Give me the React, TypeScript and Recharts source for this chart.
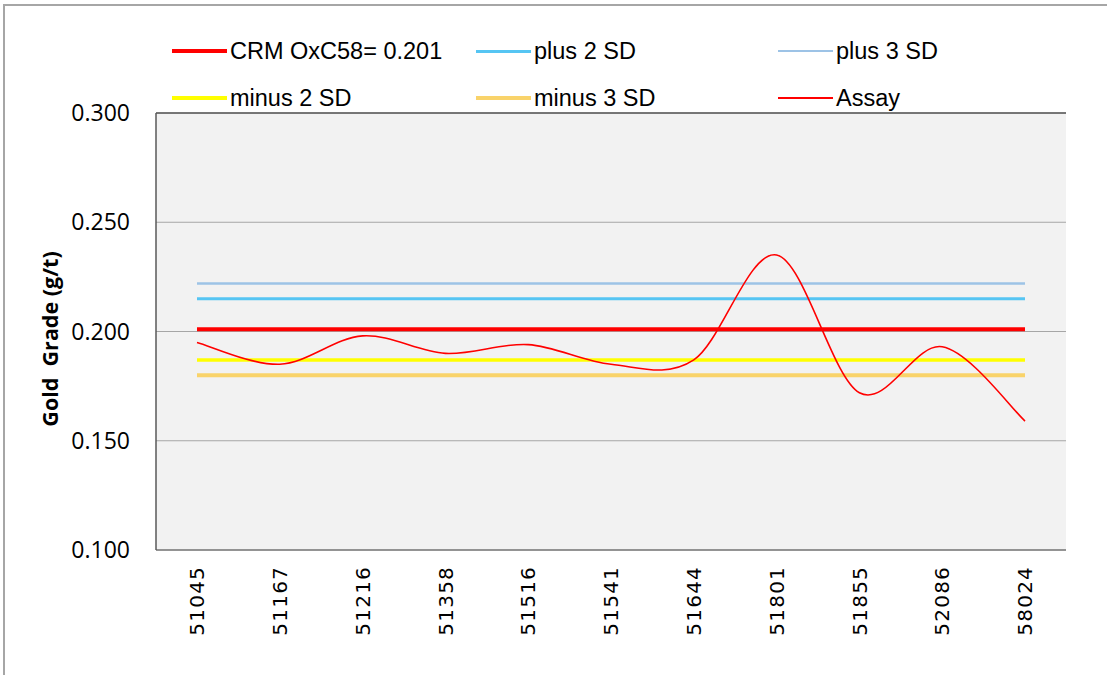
import React from 'react';
import { LineChart, Line, XAxis, YAxis, CartesianGrid, ReferenceLine } from 'recharts';

const samples = ['51045', '51167', '51216', '51358', '51516', '51541', '51644', '51801', '51855', '52086', '58024'];
const assay = [0.195, 0.185, 0.198, 0.19, 0.194, 0.185, 0.187, 0.235, 0.172, 0.193, 0.159];
const crmValue = 0.201;
const plus2SD = 0.215;
const plus3SD = 0.222;
const minus2SD = 0.187;
const minus3SD = 0.18;
const yTicks = [0.1, 0.15, 0.2, 0.25, 0.3];

const data = samples.map((s, i) => ({
  sample: s,
  crm: crmValue,
  plus2: plus2SD,
  plus3: plus3SD,
  minus2: minus2SD,
  minus3: minus3SD,
  assay: assay[i],
}));

const seriesStyle = [
  { key: 'crm', name: 'CRM OxC58= 0.201', color: '#ff0000', width: 4, col: 0, row: 0 },
  { key: 'plus2', name: 'plus 2 SD', color: '#56c5f3', width: 3, col: 1, row: 0 },
  { key: 'plus3', name: 'plus 3 SD', color: '#9dc3e6', width: 2.5, col: 2, row: 0 },
  { key: 'minus2', name: 'minus 2 SD', color: '#ffff00', width: 3.5, col: 0, row: 1 },
  { key: 'minus3', name: 'minus 3 SD', color: '#f9d36a', width: 4, col: 1, row: 1 },
  { key: 'assay', name: 'Assay', color: '#ff0000', width: 1.6, col: 2, row: 1 },
];

// Excel-like smoothed line (Catmull-Rom via cubic Beziers)
const excelCurve: any = (context: any) => {
  let pts: number[][] = [];
  return {
    areaStart() {},
    areaEnd() {},
    lineStart() {
      pts = [];
    },
    point(x: number, y: number) {
      pts.push([+x, +y]);
    },
    lineEnd() {
      if (!pts.length) return;
      context.moveTo(pts[0][0], pts[0][1]);
      for (let i = 0; i < pts.length - 1; i++) {
        const p0 = pts[i - 1] || pts[i];
        const p1 = pts[i];
        const p2 = pts[i + 1];
        const p3 = pts[i + 2] || p2;
        context.bezierCurveTo(
          p1[0] + (p2[0] - p0[0]) / 6,
          p1[1] + (p2[1] - p0[1]) / 6,
          p2[0] - (p3[0] - p1[0]) / 6,
          p2[1] - (p3[1] - p1[1]) / 6,
          p2[0],
          p2[1]
        );
      }
    },
  };
};

const colLeft = [172, 476, 778];
const rowTop = [51, 98];

const XTick = (props: any) => {
  const { x, y, payload } = props;
  return (
    <text
      x={x}
      y={y}
      transform={`rotate(-90, ${x}, ${y})`}
      textAnchor="end"
      dy="0.36em"
      fontFamily="DejaVu Sans"
      fontSize={20}
      letterSpacing={1.2}
      fill="#000"
    >
      {payload.value}
    </text>
  );
};

export default function App() {
  return (
    <div style={{ position: 'absolute', left: 0, top: 0, width: 1107, height: 675, background: '#fff', overflow: 'hidden' }}>
      <div
        style={{
          position: 'absolute',
          left: 3,
          top: 4,
          width: 1120,
          height: 690,
          borderLeft: '2px solid #a6a6a6',
          borderTop: '2px solid #a6a6a6',
        }}
      />
      <div style={{ position: 'absolute', left: 0, top: 0 }}>
        <LineChart width={1107} height={675} data={data} margin={{ top: 113, right: 41, bottom: 0, left: 0 }}>
          <CartesianGrid vertical={false} stroke="#a6a6a6" fill="#f2f2f2" />
          <XAxis
            dataKey="sample"
            height={125}
            padding={{ left: 41, right: 41 }}
            tickLine={false}
            tickSize={0}
            tickMargin={16}
            axisLine={{ stroke: '#7f7f7f', strokeWidth: 1.5 }}
            tick={<XTick />}
            interval={0}
          />
          <YAxis
            width={156}
            domain={[0.1, 0.3]}
            ticks={yTicks}
            tickFormatter={(v: number) => v.toFixed(3)}
            tickLine={false}
            tickSize={0}
            tickMargin={26}
            axisLine={{ stroke: '#595959', strokeWidth: 1.5 }}
            tick={{ fontFamily: 'Open Sans', fontSize: 23, fill: '#000' }}
            label={() => (
              <text
                x={49}
                y={339}
                transform="rotate(-90, 49, 339)"
                textAnchor="middle"
                dominantBaseline="central"
                fontFamily="Open Sans"
                fontWeight="bold"
                fontSize={21.5}
                fill="#000"
                style={{ whiteSpace: 'pre' }}
              >
                {'Gold  Grade (g/t)'}
              </text>
            )}
          />
          <YAxis
            yAxisId="right"
            orientation="right"
            width={0}
            domain={[0, 1]}
            tick={false}
            tickLine={false}
            axisLine={{ stroke: '#a0a0a0', strokeWidth: 1.5 }}
          />
          <ReferenceLine y={0.3} stroke="#595959" strokeWidth={1.5} />
          {seriesStyle.map((s) => (
            <Line
              key={s.key}
              dataKey={s.key}
              name={s.name}
              stroke={s.color}
              strokeWidth={s.width}
              type={s.key === 'assay' ? excelCurve : 'linear'}
              dot={false}
              activeDot={false}
              isAnimationActive={false}
            />
          ))}
        </LineChart>
      </div>
      {seriesStyle.map((s) => (
        <div
          key={s.key}
          style={{
            position: 'absolute',
            left: colLeft[s.col],
            top: rowTop[s.row] - 15,
            height: 30,
            display: 'flex',
            alignItems: 'center',
            fontFamily: 'Liberation Sans',
            fontSize: 23.5,
            color: '#000',
            whiteSpace: 'nowrap',
          }}
        >
          <div style={{ width: 55, height: s.key === 'assay' ? 2 : Math.min(s.width, 4), background: s.color, marginRight: 3 }} />
          <span>{s.name}</span>
        </div>
      ))}
    </div>
  );
}
